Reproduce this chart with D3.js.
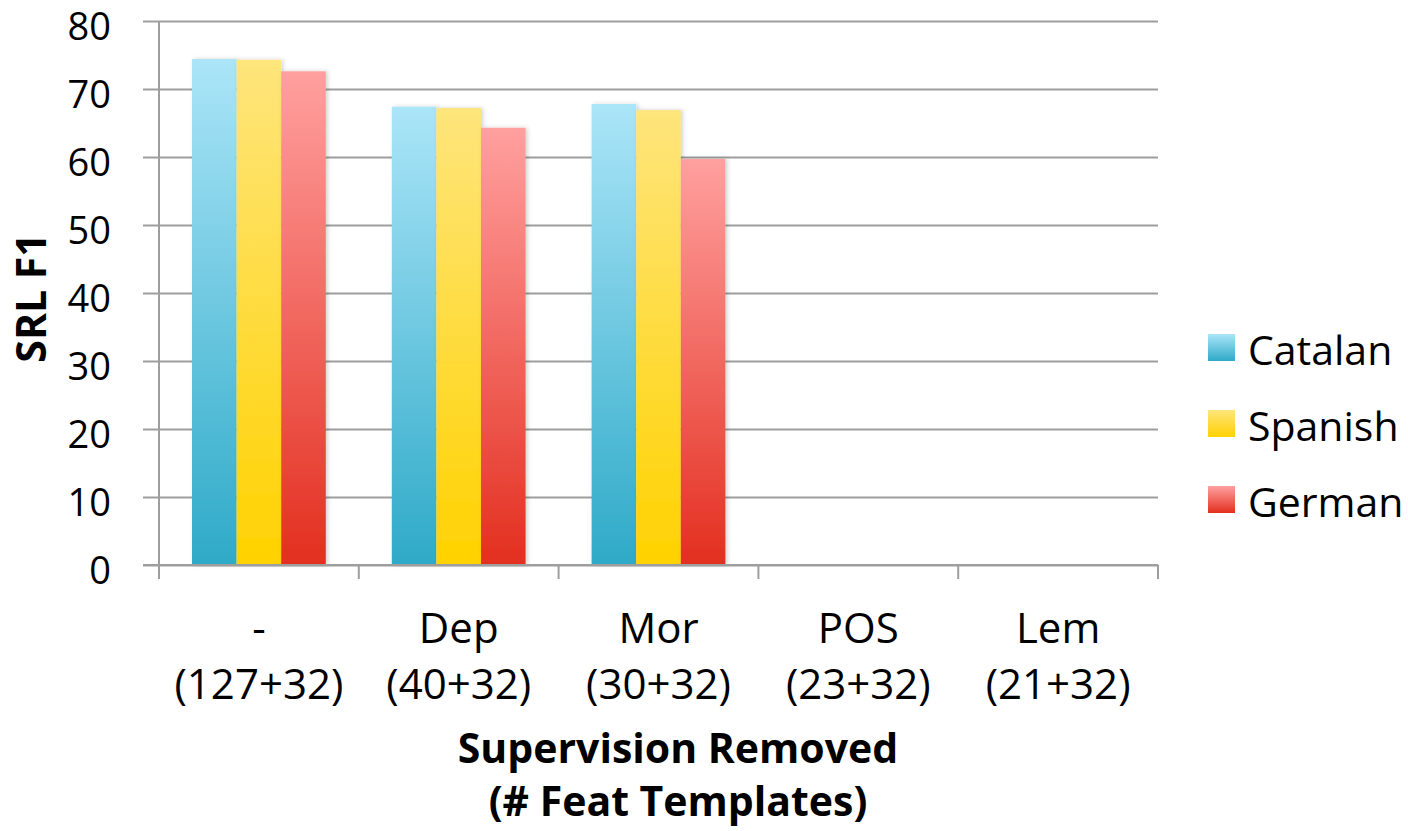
<!DOCTYPE html>
<html>
<head>
<meta charset="utf-8">
<script src="https://cdn.jsdelivr.net/npm/d3@7"></script>
<style>
  html, body { margin: 0; padding: 0; background: #fff; }
  svg { display: block; font-family: "Open Sans", Lato, sans-serif; }
</style>
</head>
<body>
<svg id="chart" width="1408" height="831"></svg>
<script>
// Ablation of supervision: SRL F1 per language
const categories = ["-", "Dep", "Mor", "POS", "Lem"];
const templateCounts = ["(127+32)", "(40+32)", "(30+32)", "(23+32)", "(21+32)"];
const languages = ["Catalan", "Spanish", "German"];
const catalan = [74.4, 67.4, 67.8, null, null];
const spanish = [74.3, 67.2, 66.9, null, null];
const german  = [72.6, 64.3, 59.7, null, null];
const yTicks = [0, 10, 20, 30, 40, 50, 60, 70, 80];

const seriesValues = [catalan, spanish, german];
const gradStops = [
  ["#abe5f8", "#2eaac8"],
  ["#fee57c", "#ffd200"],
  ["#ffa09f", "#e32f1f"]
];

const svg = d3.select("#chart");
const plotLeft = 159, plotRight = 1158, plotTop = 21, plotBottom = 565;

const x = d3.scaleBand().domain(categories).range([plotLeft, plotRight]).paddingInner(0).paddingOuter(0);
const xInner = d3.scaleBand().domain(languages).range([0, x.bandwidth()]).paddingInner(0).paddingOuter(0.74);
const y = d3.scaleLinear().domain([0, 80]).range([plotBottom, plotTop]);

const defs = svg.append("defs");
languages.forEach((lang, i) => {
  const g = defs.append("linearGradient")
    .attr("id", "grad-" + i).attr("x1", 0).attr("y1", 0).attr("x2", 0).attr("y2", 1);
  g.append("stop").attr("offset", "0%").attr("stop-color", gradStops[i][0]);
  g.append("stop").attr("offset", "100%").attr("stop-color", gradStops[i][1]);
});
const shadow = defs.append("filter").attr("id", "shadow")
  .attr("x", "-20%").attr("y", "-5%").attr("width", "140%").attr("height", "110%");
shadow.append("feDropShadow").attr("dx", 2).attr("dy", 0).attr("stdDeviation", 2)
  .attr("flood-color", "#000").attr("flood-opacity", 0.18);

// horizontal gridlines
const yAxis = d3.axisLeft(y).tickValues(yTicks).tickSize(-(plotRight - plotLeft)).tickSizeOuter(0).tickPadding(48);
const gy = svg.append("g").attr("transform", `translate(${plotLeft},0)`).call(yAxis);
gy.select(".domain").remove();
gy.selectAll(".tick line")
  .attr("x1", -16)
  .attr("stroke", "#9e9e9e").attr("stroke-width", 2);
gy.selectAll(".tick text")
  .attr("font-size", 38).attr("fill", "#000").attr("dy", "0.48em")
  .attr("font-family", "'Open Sans', Lato, sans-serif");

// vertical axis line
svg.append("line")
  .attr("x1", plotLeft).attr("x2", plotLeft).attr("y1", plotTop).attr("y2", plotBottom)
  .attr("stroke", "#9e9e9e").attr("stroke-width", 2);

// bars
const groups = svg.append("g").selectAll("g")
  .data(categories).join("g")
  .attr("transform", d => `translate(${x(d)},0)`);

languages.forEach((lang, i) => {
  groups.filter((d, j) => seriesValues[i][j] != null)
    .append("rect")
    .attr("x", xInner(lang))
    .attr("width", xInner.bandwidth())
    .attr("y", (d) => y(seriesValues[i][categories.indexOf(d)]))
    .attr("height", (d) => plotBottom - y(seriesValues[i][categories.indexOf(d)]))
    .attr("fill", `url(#grad-${i})`)
    .attr("filter", "url(#shadow)");
});

// x axis with separators between categories
const xAxisG = svg.append("g");
xAxisG.append("line")
  .attr("x1", plotLeft - 16).attr("x2", plotRight).attr("y1", plotBottom).attr("y2", plotBottom)
  .attr("stroke", "#9e9e9e").attr("stroke-width", 2);
const sepPositions = categories.map(c => x(c)).concat([plotRight]);
xAxisG.selectAll("line.sep").data(sepPositions).join("line")
  .attr("class", "sep")
  .attr("x1", d => d).attr("x2", d => d)
  .attr("y1", plotBottom).attr("y2", plotBottom + 14)
  .attr("stroke", "#9e9e9e").attr("stroke-width", 2);

const labels = svg.append("g").selectAll("g").data(categories).join("g")
  .attr("transform", d => `translate(${x(d) + x.bandwidth() / 2},0)`);
labels.append("text")
  .attr("y", 643).attr("text-anchor", "middle")
  .attr("font-size", 42).text(d => d);
labels.append("text")
  .attr("y", 699).attr("text-anchor", "middle")
  .attr("font-size", 42).text((d, i) => templateCounts[i]);

// axis titles
svg.append("text")
  .attr("x", 678).attr("y", 763).attr("text-anchor", "middle")
  .attr("font-size", 41).attr("font-weight", "bold").text("Supervision Removed");
svg.append("text")
  .attr("x", 678).attr("y", 816).attr("text-anchor", "middle")
  .attr("font-size", 41).attr("font-weight", "bold").text("(# Feat Templates)");
svg.append("text")
  .attr("transform", "translate(46,298) rotate(-90)")
  .attr("text-anchor", "middle")
  .attr("font-size", 41).attr("font-weight", "bold").text("SRL F1");

// legend
const legend = svg.append("g").selectAll("g").data(languages).join("g")
  .attr("transform", (d, i) => `translate(1208,${334 + i * 76})`);
legend.append("rect")
  .attr("width", 27).attr("height", 27)
  .attr("fill", (d, i) => `url(#grad-${i})`);
legend.append("text")
  .attr("x", 40).attr("y", 31)
  .attr("font-size", 41).text(d => d);
</script>
</body>
</html>
